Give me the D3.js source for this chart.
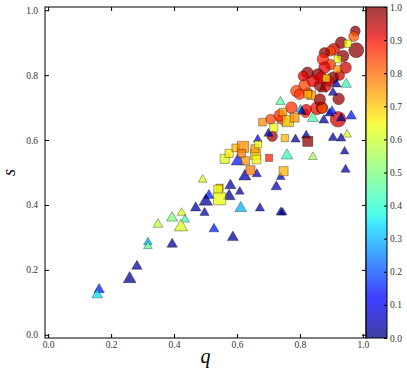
<!DOCTYPE html>
<html>
<head>
<meta charset="utf-8">
<script src="https://cdn.jsdelivr.net/npm/d3@7"></script>
<style>
body { margin: 0; background: #fff; }
text { font-family: "Liberation Serif", serif; }
</style>
</head>
<body>
<script>
// each point: [q, s, value, weight]
var circles = [
	[.707,.664,.84,1.5],[.741,.664,.86,1.5],[.773,.700,.86,1.8],[.712,.612,.97,1.6],
	[.818,.682,.88,1.2],[.854,.698,.90,2.0],[.870,.700,.98,1.8],[.871,.698,.82,1.5],
	[.921,.664,.93,2.5],[.789,.751,.84,1.8],[.825,.746,.85,1.5],[.863,.725,.98,1.8],
	[.923,.727,.98,1.8],[.815,.769,.84,1.8],[.863,.769,.98,1.8],[.884,.766,.93,1.5],
	[.799,.741,.86,1.6],[.976,.936,.99,1.5],[.971,.919,.82,1.5],[.979,.877,.99,2.4],
	[.931,.900,.99,1.8],[.908,.880,.93,1.8],[.897,.874,.84,1.5],[.878,.869,.99,1.6],
	[.873,.849,.88,1.8],[.937,.859,.99,1.8],[.897,.833,.86,1.6],[.945,.823,.93,1.8],
	[.878,.823,.91,1.8],[.926,.799,.93,1.5],[.857,.802,.99,1.8],[.824,.807,.99,1.8],
	[.810,.797,.91,1.5],[.868,.792,.91,1.8],[.905,.792,.99,1.8],[.841,.782,.91,1.8],
	[.894,.782,.93,1.5],[.736,.676,.86,1.8],[.820,.694,.91,1.6]
];
var triangles = [
	[.162,.139,.15,1.5],[.156,.123,.35,1.5],[.259,.172,.02,1.9],[.282,.211,.03,1.5],
	[.317,.285,.30,1.2],[.317,.273,.45,1.2],[.394,.279,.03,1.5],[.491,.478,.62,1.2],
	[.511,.429,.15,1.5],[.501,.411,.02,2.0],[.469,.391,.03,1.5],[.497,.376,.03,1.3],
	[.394,.360,.50,1.6],[.424,.376,.62,1.2],[.435,.355,.42,1.2],[.422,.332,.62,2.0],
	[.349,.340,.58,1.4],[.527,.326,.15,1.4],[.579,.460,.03,1.6],[.575,.427,.02,1.8],
	[.609,.441,.03,1.2],[.612,.390,.30,1.7],[.673,.390,.03,1.3],[.725,.456,.05,1.5],
	[.739,.377,.03,1.3],[.745,.377,.01,1.2],[.587,.300,.03,1.6],[.603,.535,.15,2.0],
	[.625,.488,.03,1.8],[.663,.495,.06,1.3],[.739,.486,.06,1.2],[.759,.552,.42,1.7],
	[.666,.602,.12,1.2],[.700,.620,.03,1.3],[.786,.602,.03,1.3],[.820,.614,.03,1.3],
	[.841,.548,.55,1.2],[.738,.718,.45,1.3],[.802,.694,.30,1.2],[.806,.687,.03,1.2],
	[.841,.667,.45,1.6],[.876,.661,.03,1.4],[.894,.682,.03,1.3],[.902,.689,.15,1.3],
	[.931,.667,.03,1.3],[.963,.674,.15,1.5],[.916,.772,.03,1.3],[.947,.772,.42,1.5],
	[.905,.746,.03,1.3],[.873,.756,.97,1.3],[.757,.653,.55,1.3],[.950,.617,.62,1.2],
	[.905,.607,.03,1.3],[.931,.605,.03,1.3],[.942,.565,.03,1.2],[.945,.509,.03,1.3]
];
var squares = [
	[.545,.453,.74,1.2],[.540,.448,.64,1.5],[.545,.419,.64,2.2],[.561,.542,.62,1.6],
	[.575,.559,.66,1.4],[.596,.576,.72,1.3],[.619,.579,.76,2.0],[.614,.559,.78,1.4],
	[.627,.536,.75,1.4],[.659,.556,.70,1.8],[.662,.540,.64,1.5],[.657,.573,.75,1.4],
	[.667,.587,.64,1.2],[.643,.507,.78,1.6],[.748,.504,.72,1.6],[.752,.606,.72,1.2],
	[.702,.545,.88,1.2],[.825,.596,.99,1.8],[.681,.655,.76,1.3],[.746,.686,.74,1.3],
	[.762,.658,.70,2.0],[.783,.669,.76,1.6],[.717,.638,.64,1.4],[.836,.738,.76,1.5],
	[.825,.741,.72,1.3],[.952,.897,.64,1.2],[.920,.849,.64,1.2],[.919,.818,.75,1.2],
	[.884,.790,.68,1.2]
];

var axisTicks = [0, 0.2, 0.4, 0.6, 0.8, 1.0];
var barTicks  = [0, 0.1, 0.2, 0.3, 0.4, 0.5, 0.6, 0.7, 0.8, 0.9, 1.0];

// matplotlib "jet"
var jetStops = [0, 0.11, 0.125, 0.34, 0.35, 0.375, 0.64, 0.65, 0.66, 0.89, 0.91, 1];
var jetCols  = ["#000080","#0000ff","#0000ff","#00dbff","#00e5f7","#14ffe2",
				"#eeff08","#f7f500","#ffec00","#ff1300","#e80000","#800000"];

var W = 407, H = 381,
	pl = 45, pr = 366, pt = 7, pb = 338,
	barL = 366, barR = 387;

var svg = d3.select("body").append("svg")
	.attr("width", W)
	.attr("height", H);

var x = d3.scaleLinear().domain([-0.01, 1.01]).range([pl, pr]),
	y = d3.scaleLinear().domain([-0.01, 1.01]).range([pb, pt]),
	rad = d3.scaleLinear().domain([1, 3]).range([3.6, 9.2]),
	jet = d3.scaleLinear().domain(jetStops).range(jetCols);

// marker area for each shape, from a radius
var shapes = [
	{ data: circles,   type: d3.symbolCircle,   area: function(r){ return Math.PI * r * r; } },
	{ data: triangles, type: d3.symbolTriangle, area: function(r){ return 1.9 * r * r; } },
	{ data: squares,   type: d3.symbolSquare,   area: function(r){ return 3.0 * r * r; } }
];

var marks = svg.append("g");
shapes.forEach(function(sh){
	marks.append("g").selectAll("path")
		.data(sh.data)
		.enter().append("path")
		.attr("transform", function(d){ return "translate(" + x(d[0]) + "," + y(d[1]) + ")"; })
		.attr("d", function(d){ return d3.symbol().type(sh.type).size(sh.area(rad(d[3])))(); })
		.style("fill", function(d){ return jet(d[2]); })
		.style("fill-opacity", 0.74)
		.style("stroke", "#000")
		.style("stroke-opacity", 0.55)
		.style("stroke-width", 0.6);
});

// axes, ticks inside on all four sides
function styleAxis(g){
	g.select(".domain").remove();
	g.selectAll("line").attr("stroke", "#000");
	g.selectAll("text").style("font-family", "Liberation Serif").style("font-size", "9.5px").attr("fill", "#333");
}

svg.append("g")
	.attr("transform", "translate(0," + pb + ")")
	.call(d3.axisBottom(x).tickValues(axisTicks).tickFormat(d3.format(".1f")).tickSize(-4).tickPadding(3))
	.call(styleAxis);
svg.append("g")
	.attr("transform", "translate(" + pl + ",0)")
	.call(d3.axisLeft(y).tickValues(axisTicks).tickFormat(d3.format(".1f")).tickSize(-4).tickPadding(7))
	.call(styleAxis);
svg.append("g")
	.attr("transform", "translate(0," + pt + ")")
	.call(d3.axisTop(x).tickValues(axisTicks).tickFormat("").tickSize(-4))
	.call(styleAxis);
svg.append("g")
	.attr("transform", "translate(" + pr + ",0)")
	.call(d3.axisRight(y).tickValues(axisTicks).tickFormat("").tickSize(-4))
	.call(styleAxis);

svg.append("rect")
	.attr("x", pl).attr("y", pt)
	.attr("width", pr - pl).attr("height", pb - pt)
	.attr("fill", "none").attr("stroke", "#000").attr("stroke-width", 1);

// colorbar
var grad = svg.append("defs").append("linearGradient")
	.attr("id", "jet")
	.attr("x1", 0).attr("y1", 1).attr("x2", 0).attr("y2", 0);
grad.selectAll("stop")
	.data(jetStops)
	.enter().append("stop")
	.attr("offset", function(d){ return d; })
	.attr("stop-color", function(d){ return jet(d); });

var cb = d3.scaleLinear().domain([0, 1]).range([pb, pt]);

svg.append("rect")
	.attr("x", barL).attr("y", pt)
	.attr("width", barR - barL).attr("height", pb - pt)
	.attr("fill", "url(#jet)").attr("fill-opacity", 0.75);

svg.append("g")
	.attr("transform", "translate(" + barR + ",0)")
	.call(d3.axisRight(cb).tickValues(barTicks).tickFormat(d3.format(".1f")).tickSize(-3).tickPadding(3))
	.call(styleAxis);

svg.append("rect")
	.attr("x", barL).attr("y", pt)
	.attr("width", barR - barL).attr("height", pb - pt)
	.attr("fill", "none").attr("stroke", "#000").attr("stroke-width", 1);

// axis labels
svg.append("text")
	.attr("x", (pl + pr) / 2).attr("y", 363)
	.attr("text-anchor", "middle")
	.style("font-style", "italic").style("font-size", "20px")
	.text("q");

svg.append("text")
	.attr("transform", "translate(15," + (pt + pb) / 2 + ") rotate(-90)")
	.attr("text-anchor", "middle")
	.style("font-style", "italic").style("font-size", "18px")
	.text("s");
</script>
</body>
</html>
